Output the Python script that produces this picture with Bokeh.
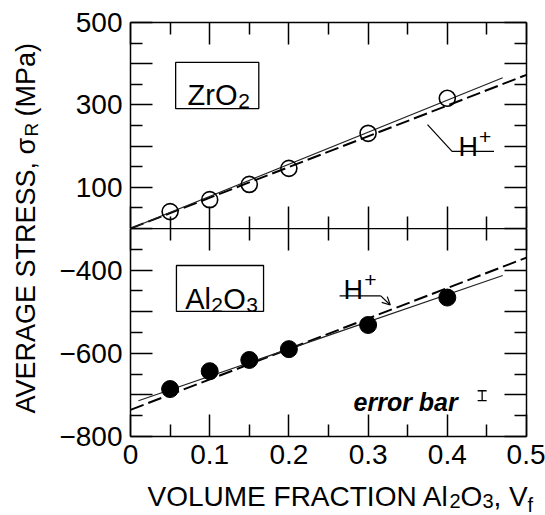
import numpy as np
from bokeh.plotting import figure
from bokeh.layouts import row, column
from bokeh.models import (FixedTicker, LinearAxis, Range1d, Label, BoxAnnotation,
                          Whisker, ColumnDataSource, Arrow, OpenHead, Grid)
from bokeh.embed import file_html
from bokeh.resources import INLINE
from bokeh.core.properties import value

# ---------------- data ----------------
vf = [0.05, 0.10, 0.15, 0.20, 0.30, 0.40]
zro2_stress = [41, 70, 107, 146, 231, 316]
al2o3_stress = [-686, -643, -616, -590, -532, -466]

zro2_fit_x = [0.0, 0.47]
zro2_fit_y = [0.0, 366.0]
zro2_hplus_x = [0.0, 0.5]
zro2_hplus_y = [0.0, 373.0]

al2o3_fit_x = [0.01, 0.47]
al2o3_fit_y = [-714.0, -413.0]
al2o3_hplus_x = [0.0, 0.5]
al2o3_hplus_y = [-736.0, -370.0]

x_ticks = [0.0, 0.1, 0.2, 0.3, 0.4, 0.5]
x_minor = [0.05, 0.15, 0.25, 0.35, 0.45]
x_tick_labels = ["0", "0.1", "0.2", "0.3", "0.4", "0.5"]

zr_y_ticks = [0, 100, 200, 300, 400, 500]
zr_y_minor = [50, 150, 250, 350, 450]
zr_y_labels = ["", "100", "", "300", "", "500"]

al_y_ticks = [-800, -700, -600, -500, -400, -300]
al_y_minor = [-750, -650, -550, -450, -350]
al_y_labels = ["\u2212800", "", "\u2212600", "", "\u2212400", ""]

err_x = [0.444]
err_lo = [-714]
err_hi = [-690]

FONT = "Liberation Sans"
YL_W = 50          # width of the y-title strip
MAIN_W = 545 - YL_W
TOP_H = 228
BOT_H = 252
XL_H = 515 - TOP_H - BOT_H


def hide_grids(p):
    for r in list(p.center):
        if isinstance(r, Grid):
            r.visible = False


def make_axis(ticks, minor, labels=None, line=True):
    ax = LinearAxis(ticker=FixedTicker(ticks=ticks, minor_ticks=minor))
    ax.major_tick_in = 22
    ax.major_tick_out = 0
    ax.minor_tick_in = 12
    ax.minor_tick_out = 0
    ax.major_tick_line_width = 1.5
    ax.minor_tick_line_width = 1.5
    ax.major_tick_line_color = "black"
    ax.minor_tick_line_color = "black"
    ax.axis_line_width = 1.5
    ax.axis_line_color = "black" if line else None
    if labels is not None:
        ax.major_label_overrides = {t: l for t, l in zip(ticks, labels)}
        ax.major_label_text_font = FONT
        ax.major_label_text_font_size = "28px"
        ax.major_label_text_color = "black"
        ax.major_label_standoff = 8
    else:
        ax.major_label_overrides = {t: "" for t in ticks}
        ax.major_label_text_font_size = "0px"
        ax.major_label_standoff = 0
    return ax


def base_fig(height, yr, top, bottom):
    p = figure(width=MAIN_W, height=height, x_range=Range1d(0, 0.5), y_range=Range1d(*yr),
               toolbar_location=None, output_backend="svg", title=None,
               x_axis_location=None, y_axis_location=None,
               min_border_left=130 - YL_W, min_border_right=19,
               min_border_top=top, min_border_bottom=bottom)
    p.outline_line_color = None
    p.background_fill_color = "white"
    p.border_fill_color = "white"
    hide_grids(p)
    return p


def plain_fig(width, height):
    p = figure(width=width, height=height, x_range=Range1d(0, width), y_range=Range1d(0, height),
               toolbar_location=None, output_backend="svg", title=None,
               x_axis_location=None, y_axis_location=None,
               min_border=0, min_border_left=0, min_border_right=0,
               min_border_top=0, min_border_bottom=0)
    p.outline_line_color = None
    p.background_fill_color = "white"
    p.border_fill_color = "white"
    hide_grids(p)
    return p


def add_label(p, x, y, text, size, x_off=0, y_off=0, style="normal", font=FONT, align="left"):
    p.add_layout(Label(x=x, y=y, x_offset=x_off, y_offset=y_off, text=text,
                       text_font=font, text_font_size=size, text_font_style=style,
                       text_color="black", text_align=align, text_baseline="alphabetic"))


# ---------------- top panel (ZrO2) ----------------
top = base_fig(TOP_H, (0, 500), 22, 0)
top.add_layout(make_axis(zr_y_ticks, zr_y_minor, zr_y_labels), "left")
top.add_layout(make_axis(zr_y_ticks, zr_y_minor), "right")
top.add_layout(make_axis(x_ticks, x_minor), "above")
top.add_layout(make_axis(x_ticks, x_minor, line=False), "below")

top.line(zro2_hplus_x, zro2_hplus_y, line_color="black", line_width=2.0, line_dash="14 5")
top.line(zro2_fit_x, zro2_fit_y, line_color="#222222", line_width=1.2)
top.scatter(vf, zro2_stress, marker="circle", size=16, fill_alpha=0,
            line_color="black", line_width=1.6)

top.add_layout(BoxAnnotation(left=0.057, right=0.162, top=403, bottom=291,
                             fill_alpha=0, line_color="black", line_alpha=1, line_width=1.3))
add_label(top, 0.072, 325, "ZrO", "29px")
add_label(top, 0.136, 325, "2", "21px", y_off=-6)

add_label(top, 0.414, 199, "H", "27px")
add_label(top, 0.440, 199, "+", "21px", y_off=10)
top.line([0.375, 0.406, 0.459], [252, 187, 187], line_color="black", line_width=1.2)

# ---------------- bottom panel (Al2O3) ----------------
bot = base_fig(BOT_H, (-800, -300), 0, 44)
bot.add_layout(make_axis(al_y_ticks, al_y_minor, al_y_labels), "left")
bot.add_layout(make_axis(al_y_ticks, al_y_minor), "right")
bot.add_layout(make_axis(x_ticks, x_minor), "above")
bot.add_layout(make_axis(x_ticks, x_minor, x_tick_labels), "below")

bot.line(al2o3_hplus_x, al2o3_hplus_y, line_color="black", line_width=2.0, line_dash="14 5")
bot.line(al2o3_fit_x, al2o3_fit_y, line_color="#222222", line_width=1.2)
bot.scatter(vf, al2o3_stress, marker="circle", size=17, fill_color="black",
            line_color="black", line_width=1)

bot.add_layout(BoxAnnotation(left=0.058, right=0.168, top=-389, bottom=-499,
                             fill_alpha=0, line_color="black", line_alpha=1, line_width=1.3))
add_label(bot, 0.069, -469, "Al", "29px")
add_label(bot, 0.102, -469, "2", "21px", y_off=-6)
add_label(bot, 0.117, -469, "O", "29px")
add_label(bot, 0.146, -469, "3", "21px", y_off=-6)

add_label(bot, 0.269, -449, "H", "27px")
add_label(bot, 0.295, -449, "+", "21px", y_off=10)
bot.line([0.264, 0.316], [-462, -462], line_color="black", line_width=1.2)
bot.add_layout(Arrow(end=OpenHead(size=8, line_width=1.2, line_color="black"),
                     x_start=0.316, y_start=-462, x_end=0.328, y_end=-484,
                     line_color="black", line_width=1.2))

add_label(bot, 0.2816, -717, "error bar", "25px", style="bold italic")
err_src = ColumnDataSource(dict(base=err_x, lower=err_lo, upper=err_hi))
w = Whisker(source=err_src, base="base", lower="lower", upper="upper",
            dimension="height", line_color="black", line_width=1.3)
w.upper_head.size = 9
w.lower_head.size = 9
w.upper_head.line_width = 1.3
w.lower_head.line_width = 1.3
bot.add_layout(w)

# ---------------- y-axis title strip ----------------
ROW_H = TOP_H + BOT_H
yl = plain_fig(YL_W, ROW_H)
yl.text(x=[25], y=[ROW_H - 413], text=["AVERAGE STRESS, \u03c3"], angle=np.pi / 2,
        text_font=value(FONT), text_font_size="27px", text_color="black",
        text_align="left", text_baseline="middle")
yl.text(x=[31], y=[ROW_H - 136], text=["R"], angle=np.pi / 2,
        text_font=value(FONT), text_font_size="19px", text_color="black",
        text_align="left", text_baseline="middle")
yl.text(x=[25], y=[ROW_H - 116], text=["(MPa)"], angle=np.pi / 2,
        text_font=value(FONT), text_font_size="27px", text_color="black",
        text_align="left", text_baseline="middle")

# ---------------- x-axis title strip (full width, below everything) ----------------
xl = plain_fig(545, XL_H)
x0 = 147                # start of the title, page pixels
xt_text = ["VOLUME FRACTION Al", "2", "O", "3", ", V", "f"]
xt_x = [x0, x0 + 302, x0 + 313, x0 + 335, x0 + 346, x0 + 380]
xt_y = [XL_H, XL_H - 13, XL_H, XL_H - 13, XL_H, XL_H - 13]   # em-box tops
xt_size = ["28px", "20px", "28px", "20px", "28px", "20px"]
xl.text(x=xt_x, y=xt_y, text=xt_text, text_font=value(FONT), text_font_size=xt_size,
        text_color="black", text_align="left", text_baseline="top")

layout = column(row(yl, column(top, bot, spacing=0), spacing=0), xl, spacing=0)

open("out.html", "w").write(file_html(layout, INLINE))
